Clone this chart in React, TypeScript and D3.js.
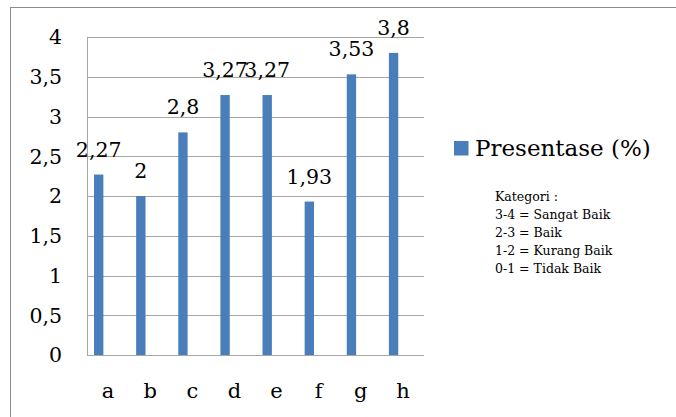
import React from "react";
import * as d3 from "d3";

const categories = ["a", "b", "c", "d", "e", "f", "g", "h"];
const presentase = [2.27, 2, 2.8, 3.27, 3.27, 1.93, 3.53, 3.8];
const dataLabels = ["2,27", "2", "2,8", "3,27", "3,27", "1,93", "3,53", "3,8"];
// the source chart reserves room for three series per category; only the first holds data
const seriesSlots = ["Presentase (%)", "slot2", "slot3"];
const yTicks = [0, 0.5, 1, 1.5, 2, 2.5, 3, 3.5, 4];
const yTickLabels = ["0", "0,5", "1", "1,5", "2", "2,5", "3", "3,5", "4"];
const legendLabel = "Presentase (%)";
const kategoriLines = [
  "Kategori :",
  "3-4 = Sangat Baik",
  "2-3 = Baik",
  "1-2 = Kurang Baik",
  "0-1 = Tidak Baik",
];

const W = 676;
const H = 417;
const plot = { left: 87, right: 424, top: 37, bottom: 355 };
const FONT = "'DejaVu Serif', serif";
const BAR = "#4A7EBB";
const GRID = "#a6a6a6";

export default function App() {
  const x = d3
    .scaleBand<string>()
    .domain(categories)
    .range([plot.left, plot.right])
    .padding(0);
  const inner = d3
    .scaleBand<string>()
    .domain(seriesSlots)
    .range([0, x.bandwidth()])
    .paddingInner(0)
    .paddingOuter(0.75);
  const y = d3.scaleLinear().domain([0, 4]).range([plot.bottom, plot.top]);

  return (
    <div style={{ position: "fixed", left: 0, top: 0 }}>
      <svg width={W} height={H} style={{ display: "block", background: "#fff" }}>
        <rect x={10.5} y={7.5} width={720} height={460} fill="#fff" stroke="#8c8c8c" strokeWidth={1} />
        {yTicks.map((t) => (
          <line
            key={"g" + t}
            x1={plot.left}
            x2={plot.right}
            y1={Math.round(y(t)) + 0.5}
            y2={Math.round(y(t)) + 0.5}
            stroke={GRID}
            strokeWidth={1}
          />
        ))}
        <line x1={plot.left + 0.5} x2={plot.left + 0.5} y1={plot.top} y2={plot.bottom + 0.5} stroke={GRID} />
        {yTicks.map((t, i) => (
          <text
            key={"t" + t}
            x={62}
            y={y(t)}
            dy="0.36em"
            textAnchor="end"
            fontFamily={FONT}
            fontSize={20.5}
            fill="#000"
          >
            {yTickLabels[i]}
          </text>
        ))}
        {categories.map((c, i) => {
          const bx = (x(c) as number) + (inner(seriesSlots[0]) as number);
          const bw = inner.bandwidth();
          const top = y(presentase[i]);
          return (
            <g key={c}>
              <rect x={bx} y={top} width={bw} height={plot.bottom - top} fill={BAR} />
              <text
                x={bx + bw / 2}
                y={top - 18}
                textAnchor="middle"
                fontFamily={FONT}
                fontSize={20.5}
                fill="#000"
              >
                {dataLabels[i]}
              </text>
              <text
                x={(x(c) as number) + x.bandwidth() / 2}
                y={398}
                textAnchor="middle"
                fontFamily={FONT}
                fontSize={21}
                fill="#000"
              >
                {c}
              </text>
            </g>
          );
        })}
        <rect x={454} y={141} width={14.5} height={14.5} fill={BAR} />
        <text x={475} y={156} fontFamily={FONT} fontSize={23} fill="#000">
          {legendLabel}
        </text>
        {kategoriLines.map((l, i) => (
          <text key={l} x={495} y={201 + i * 18} fontFamily={FONT} fontSize={12.5} fill="#000">
            {l}
          </text>
        ))}
      </svg>
    </div>
  );
}
